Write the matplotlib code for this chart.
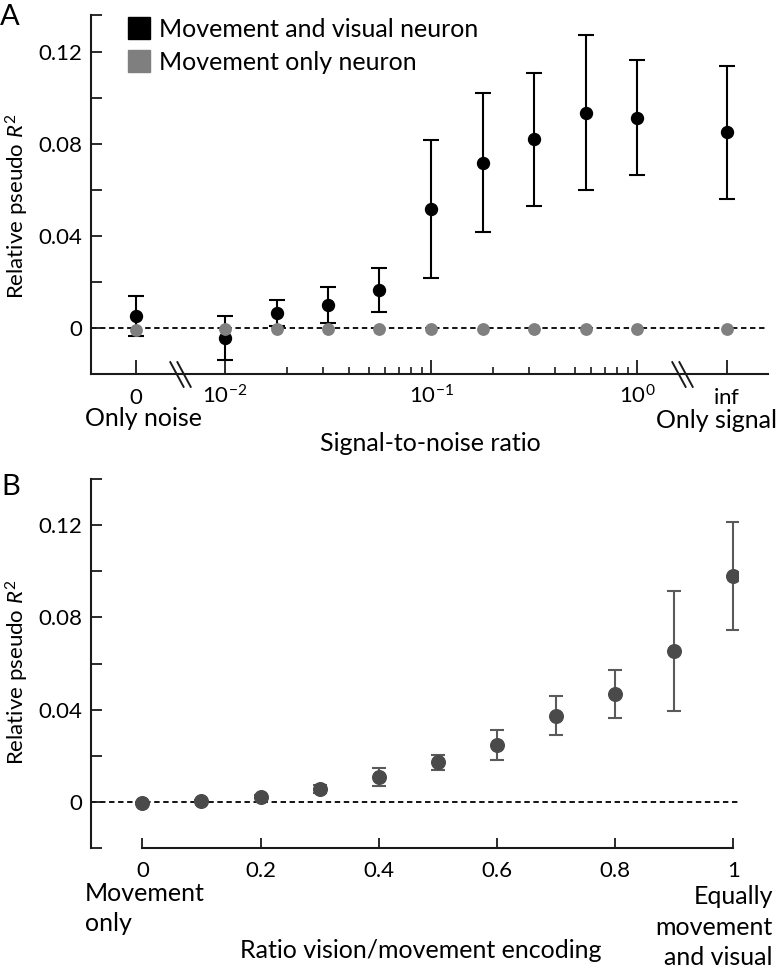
import numpy as np
import matplotlib
matplotlib.use("Agg")
import matplotlib.pyplot as plt
from matplotlib.lines import Line2D
from matplotlib.path import Path
import matplotlib.transforms as mtransforms

plt.rcParams['font.family'] = ['Lato', 'DejaVu Sans']
plt.rcParams['mathtext.fontset'] = 'custom'
plt.rcParams['mathtext.rm'] = 'Lato'
plt.rcParams['mathtext.it'] = 'Lato:italic'
plt.rcParams['mathtext.bf'] = 'Lato:bold'

# ---------------- data ----------------
snr = [0, 0.01, 0.0178, 0.0316, 0.0562, 0.1, 0.178, 0.316, 0.562, 1.0, np.inf]
a_vis_mean = [0.0052, -0.0043, 0.0065, 0.0100, 0.0165, 0.0516, 0.0719, 0.0819, 0.0936, 0.0914, 0.0850]
a_vis_err = [0.0085, 0.0096, 0.0058, 0.0080, 0.0095, 0.0300, 0.0300, 0.0290, 0.0335, 0.0250, 0.0290]
a_mov_mean = [-0.0008, -0.0003, -0.0003, -0.0003, -0.0003, -0.0003, -0.0003, -0.0003, -0.0003, -0.0003, -0.0003]

ratio = [0.0, 0.1, 0.2, 0.3, 0.4, 0.5, 0.6, 0.7, 0.8, 0.9, 1.0]
b_mean = [-0.0006, 0.0004, 0.0023, 0.0055, 0.0107, 0.0172, 0.0246, 0.0374, 0.0467, 0.0656, 0.0979]
b_err = [0.0005, 0.0005, 0.0005, 0.0018, 0.0040, 0.0033, 0.0065, 0.0086, 0.0103, 0.0260, 0.0233]

legend_labels = ['Movement and visual neuron', 'Movement only neuron']
y_tick_labels = ['', '0', '', '0.04', '', '0.08', '', '0.12', '']
a_xtick_labels = ['$0$', '$10^{-2}$', '$10^{-1}$', '$10^{0}$', '$\\mathrm{inf}$']
b_xtick_labels = ['0', '0.2', '0.4', '0.6', '0.8', '1']

# plotting positions for the special values on the log axis
ZERO_POS = 10 ** -2.433
INF_POS = 10 ** 0.435
snr_pos = [ZERO_POS if s == 0 else (INF_POS if np.isinf(s) else s) for s in snr]

FS = 18      # annotation text
TFS = 16     # tick labels
LFS = 16     # y labels
W, H = 780, 971
fig = plt.figure(figsize=(W / 100, H / 100), dpi=100)

def frac_box(l, r, t, b):
    return [l / W, 1 - b / H, (r - l) / W, (b - t) / H]

axA = fig.add_axes(frac_box(91, 768, 15, 374))
axB = fig.add_axes(frac_box(91, 738, 479, 848))

AXC = '#1a1a1a'
for ax in (axA, axB):
    for s in ('top', 'right'):
        ax.spines[s].set_visible(False)
    for s in ('left', 'bottom'):
        ax.spines[s].set_linewidth(1.5)
        ax.spines[s].set_color(AXC)

DASH = (0, (3, 2))

# ---------------- panel A ----------------
axA.set_xscale('log')
axA.set_xlim(10 ** -2.65, 10 ** 0.635)
axA.set_ylim(-0.02, 0.136)
axA.axhline(0, color='black', lw=1.3, ls=DASH, zorder=1)

axA.errorbar(snr_pos, a_vis_mean, yerr=a_vis_err, fmt='o', color='black',
             ms=8.6, elinewidth=1.5, capsize=6, capthick=1.5, zorder=3)
axA.plot(snr_pos, a_mov_mean, 'o', color='#808080', ms=8.2, zorder=4, ls='none')

axA.set_yticks([-0.02, 0, 0.02, 0.04, 0.06, 0.08, 0.10, 0.12, 0.136])
axA.set_yticklabels(y_tick_labels)
axA.tick_params(axis='y', direction='in', length=8, width=1.3, pad=6,
                labelsize=TFS, color=AXC)

axA.set_xticks([ZERO_POS, 1e-2, 1e-1, 1e0, INF_POS])
axA.set_xticklabels(a_xtick_labels)
minors = [m * 10.0 ** e for e in (-2, -1) for m in range(2, 10)]
axA.set_xticks(minors, minor=True)
axA.set_xticklabels([''] * len(minors), minor=True)
axA.tick_params(axis='x', which='major', direction='in', length=10, width=1.3,
                pad=21.5, labelsize=TFS, color=AXC)
axA.tick_params(axis='x', which='minor', direction='in', length=5, width=1.2,
                color=AXC)
for t in axA.xaxis.get_major_ticks():
    t.label1.set_verticalalignment('baseline')

# axis break marks
brk = Path([(-10.5, 13), (3.5, -13), (-3.5, 13), (10.5, -13)],
           [Path.MOVETO, Path.LINETO, Path.MOVETO, Path.LINETO])
blend = mtransforms.blended_transform_factory(axA.transData, axA.transAxes)
bx = [np.sqrt(ZERO_POS * 1e-2), np.sqrt(1e0 * INF_POS)]
axA.plot(bx, [0, 0], ls='none', marker=brk, ms=19, mfc='none', mec=AXC,
         mew=1.4, transform=blend, clip_on=False, zorder=5)

axA.set_ylabel('Relative pseudo $\\mathit{R}^2$', fontsize=LFS)
axA.yaxis.set_label_coords(-0.088, 0.468)
axA.text(-0.009, -0.145, 'Only noise', transform=axA.transAxes, fontsize=FS,
         ha='left', va='baseline')
axA.text(1.0133, -0.150, 'Only signal', transform=axA.transAxes, fontsize=FS,
         ha='right', va='baseline')
axA.text(0.5007, -0.2145, 'Signal-to-noise ratio', transform=axA.transAxes,
         fontsize=FS, ha='center', va='baseline')

handles = [Line2D([], [], marker='s', color='black', ls='none', ms=16),
           Line2D([], [], marker='s', color='#7f7f7f', ls='none', ms=16)]
axA.legend(handles, legend_labels, loc='upper left', bbox_to_anchor=(0.052, 0.993),
           frameon=False, fontsize=FS, borderpad=0, borderaxespad=0,
           handlelength=1.0, handletextpad=0.3, labelspacing=0.4)

fig.text(0 / W, 1 - 17 / H, 'A', fontsize=21, ha='left', va='center')

# ---------------- panel B ----------------
axB.set_xlim(-0.087, 1.008)
axB.set_ylim(-0.02, 0.14)
axB.spines['bottom'].set_bounds(0, 1)
axB.axhline(0, color='black', lw=1.3, ls=DASH, zorder=1)
axB.errorbar(ratio, b_mean, yerr=b_err, fmt='o', color='#4a4a4a', ecolor='#5a5a5a',
             ms=9.8, elinewidth=1.5, capsize=4.8, capthick=1.5, zorder=3)

axB.set_yticks([-0.02, 0, 0.02, 0.04, 0.06, 0.08, 0.10, 0.12, 0.14])
axB.set_yticklabels(y_tick_labels)
axB.tick_params(axis='y', direction='in', length=8, width=1.3, pad=6,
                labelsize=TFS, color=AXC)
axB.set_xticks([0, 0.2, 0.4, 0.6, 0.8, 1.0])
axB.set_xticklabels(b_xtick_labels)
axB.tick_params(axis='x', direction='in', length=7, width=1.3, pad=21,
                labelsize=TFS, color=AXC)
for t in axB.xaxis.get_major_ticks():
    t.label1.set_verticalalignment('baseline')

axB.set_ylabel('Relative pseudo $\\mathit{R}^2$', fontsize=LFS)
axB.yaxis.set_label_coords(-0.092, 0.477)
axB.text(-0.009, -0.092, 'Movement\nonly', transform=axB.transAxes, fontsize=FS,
         ha='left', va='top', linespacing=1.37)
axB.text(1.054, -0.100, 'Equally\nmovement\nand visual', transform=axB.transAxes,
         fontsize=FS, ha='right', va='top', multialignment='right', linespacing=1.4)
axB.text(0.510, -0.298, 'Ratio vision/movement encoding', transform=axB.transAxes,
         fontsize=FS, ha='center', va='baseline')

fig.text(1 / W, 1 - 487 / H, 'B', fontsize=21, ha='left', va='center')

fig.savefig('out.png', dpi=100)
